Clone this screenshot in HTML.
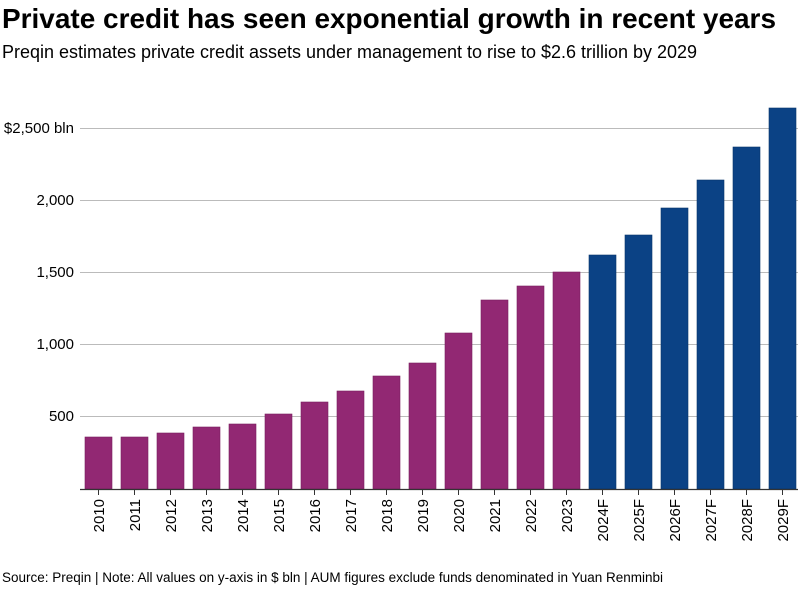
<!DOCTYPE html>
<html><head><meta charset="utf-8"><style>
body{margin:0;background:#fff;width:800px;height:590px;overflow:hidden;font-family:"Liberation Sans",Arial,sans-serif}
</style></head><body>
<svg width="800" height="590" xmlns="http://www.w3.org/2000/svg" font-family="Liberation Sans, Arial, sans-serif">
<text x="2" y="28" font-size="28" font-weight="bold" fill="#000" textLength="774" lengthAdjust="spacingAndGlyphs">Private credit has seen exponential growth in recent years</text>
<text x="2" y="58" font-size="18" fill="#000" textLength="695" lengthAdjust="spacingAndGlyphs">Preqin estimates private credit assets under management to rise to $2.6 trillion by 2029</text>
<g stroke="#bbb" stroke-width="1">
<line x1="80" x2="798" y1="128.5" y2="128.5"/>
<line x1="80" x2="798" y1="200.5" y2="200.5"/>
<line x1="80" x2="798" y1="272.5" y2="272.5"/>
<line x1="80" x2="798" y1="344.5" y2="344.5"/>
<line x1="80" x2="798" y1="416.5" y2="416.5"/>
</g>
<g font-size="15" fill="#000" text-anchor="end">
<text x="74" y="133">$2,500 bln</text>
<text x="74" y="205">2,000</text>
<text x="74" y="277">1,500</text>
<text x="74" y="349">1,000</text>
<text x="74" y="421">500</text>
</g>
<g id="bars"></g>
<line x1="80" x2="798" y1="489.5" y2="489.5" stroke="#333" stroke-width="1.2"/>
<g id="labels" font-size="15" fill="#000"></g>
<text x="2" y="582" font-size="13.5" fill="#000" textLength="661" lengthAdjust="spacingAndGlyphs">Source: Preqin | Note: All values on y-axis in $ bln | AUM figures exclude funds denominated in Yuan Renminbi</text>
<script>
var tops=[437,437,433,427,424,414,402,391,376,363,333,300,286,272,255,235,208,180,147,108];
var lab=["2010","2011","2012","2013","2014","2015","2016","2017","2018","2019","2020","2021","2022","2023","2024F","2025F","2026F","2027F","2028F","2029F"];
var b=document.getElementById('bars'),l=document.getElementById('labels'),ns="http://www.w3.org/2000/svg";
for(var i=0;i<20;i++){
 var x=85+i*36;
 var r=document.createElementNS(ns,'rect');
 r.setAttribute('x',x);r.setAttribute('y',tops[i]);r.setAttribute('width',27);r.setAttribute('height',489-tops[i]);
 r.setAttribute('fill',i<14?'#922873':'#0b4285');
 r.setAttribute('stroke',i<14?'#7a1f5f':'#08346b');r.setAttribute('stroke-width','0.6');
 b.appendChild(r);
 var t=document.createElementNS(ns,'line');
 t.setAttribute('x1',x+13.5);t.setAttribute('x2',x+13.5);t.setAttribute('y1',489);t.setAttribute('y2',495);t.setAttribute('stroke','#333');
 l.appendChild(t);
 var tx=document.createElementNS(ns,'text');
 tx.setAttribute('transform','translate('+(x+19)+',499) rotate(-90)');
 tx.setAttribute('text-anchor','end');tx.textContent=lab[i];
 l.appendChild(tx);
}
</script>
</svg>
</body></html>
